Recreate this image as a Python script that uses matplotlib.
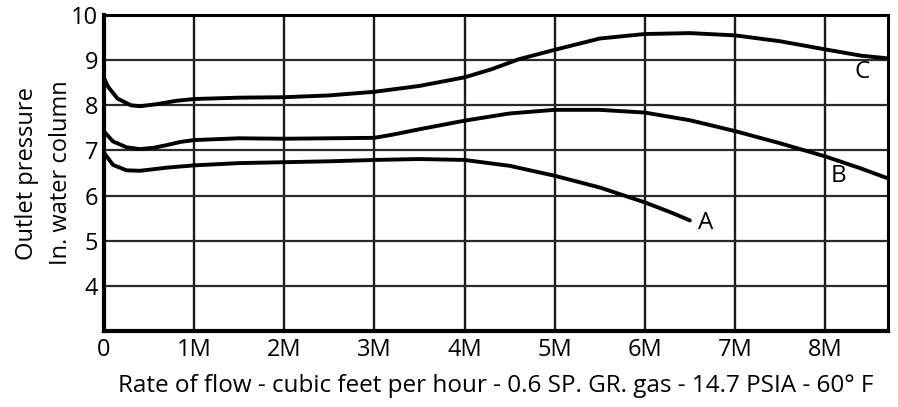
import matplotlib
matplotlib.use("Agg")
import matplotlib.pyplot as plt

plt.rcParams.update({
    "font.family": ["Open Sans", "DejaVu Sans"],
    "font.size": 17,
})

# flow rate in millions of cubic feet per hour, pressure in inches of water column
flow_a = [0, 0.1, 0.25, 0.4, 0.7, 1.0, 1.5, 2.0, 2.5, 3.0, 3.5, 4.0, 4.5, 5.0, 5.5, 6.0, 6.3, 6.5]
press_a = [6.95, 6.68, 6.56, 6.55, 6.62, 6.67, 6.72, 6.74, 6.76, 6.79, 6.81, 6.79, 6.66, 6.44,
           6.18, 5.85, 5.62, 5.45]

flow_b = [0, 0.1, 0.25, 0.4, 0.55, 0.7, 0.85, 1.0, 1.5, 2.0, 2.5, 3.0, 3.2, 3.5, 4.0, 4.5, 5.0,
          5.5, 6.0, 6.5, 7.0, 7.5, 8.0, 8.4, 8.7]
press_b = [7.42, 7.20, 7.07, 7.03, 7.06, 7.12, 7.19, 7.23, 7.27, 7.26, 7.27, 7.28, 7.35, 7.47,
           7.66, 7.82, 7.90, 7.90, 7.84, 7.67, 7.43, 7.16, 6.87, 6.60, 6.38]

flow_c = [0, 0.05, 0.15, 0.3, 0.4, 0.6, 0.8, 1.0, 1.5, 2.0, 2.5, 3.0, 3.5, 4.0, 4.3, 4.6, 5.0,
          5.5, 6.0, 6.5, 7.0, 7.5, 8.0, 8.4, 8.7]
press_c = [8.60, 8.40, 8.15, 8.00, 7.98, 8.03, 8.10, 8.14, 8.17, 8.18, 8.22, 8.30, 8.43, 8.62,
           8.80, 9.02, 9.23, 9.48, 9.58, 9.60, 9.55, 9.42, 9.24, 9.10, 9.04]

curve_labels = ["A", "B", "C"]
label_pos = [(6.68, 5.40), (8.15, 6.43), (8.41, 8.74)]

x_ticks = [0, 1, 2, 3, 4, 5, 6, 7, 8]
x_ticklabels = ["0", "1M", "2M", "3M", "4M", "5M", "6M", "7M", "8M"]
y_ticks = [4, 5, 6, 7, 8, 9, 10]

fig = plt.figure(figsize=(8.98, 4.07), dpi=100)
ax = fig.add_axes([0.1158, 0.1867, 0.8732, 0.7763])

for xv in x_ticks[1:]:
    ax.axvline(xv, color="#1a1a1a", lw=1.7, zorder=1)
for yv in y_ticks[:-1]:
    ax.axhline(yv, color="#2a2a2a", lw=1.6, zorder=1)

for fx, py in [(flow_a, press_a), (flow_b, press_b), (flow_c, press_c)]:
    ax.plot(fx, py, color="black", lw=2.8, solid_capstyle="round", zorder=3)

for lab, (lx, ly) in zip(curve_labels, label_pos):
    ax.text(lx, ly, lab, ha="center", va="center", fontsize=17.5, zorder=4)

ax.set_xlim(0, 8.7)
ax.set_ylim(3, 10)
ax.set_xticks(x_ticks)
ax.set_xticklabels(x_ticklabels)
ax.set_yticks(y_ticks)
ax.tick_params(length=0, labelsize=17)
ax.tick_params(axis="x", pad=5)
ax.tick_params(axis="y", pad=4)

for side in ["left", "bottom"]:
    ax.spines[side].set_linewidth(3)
for side in ["top", "right"]:
    ax.spines[side].set_linewidth(2.2)

ax.set_xlabel("Rate of flow - cubic feet per hour - 0.6 SP. GR. gas - 14.7 PSIA - 60° F",
              fontsize=17.5, labelpad=9)
ax.set_ylabel("Outlet pressure\nIn. water column", fontsize=17, labelpad=-1, linespacing=1.55)

fig.savefig("out.png", dpi=100)
